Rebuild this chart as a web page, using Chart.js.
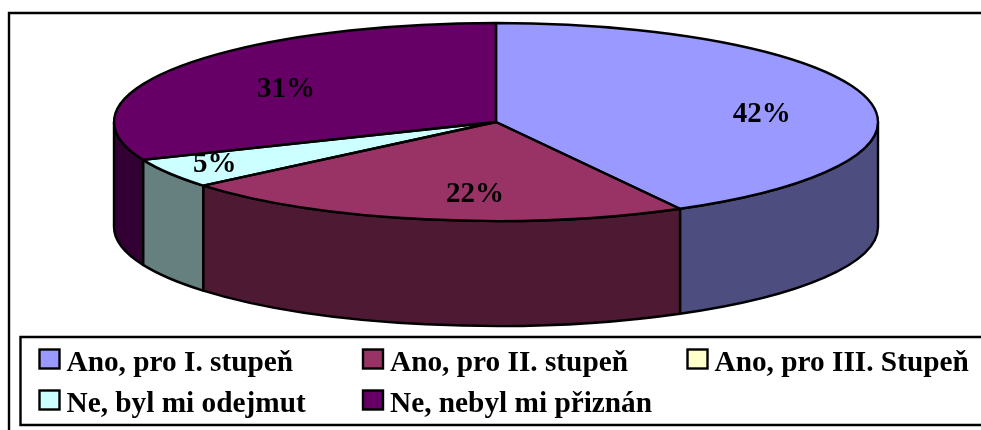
<!DOCTYPE html>
<html>
<head>
<meta charset="utf-8">
<style>html,body{margin:0;padding:0;background:#fff;overflow:hidden}canvas{display:block}</style>
<script src="https://cdn.jsdelivr.net/npm/chart.js@4/dist/chart.umd.js"></script>
</head>
<body>
<canvas id="c" width="981" height="430"></canvas>
<script>
const categories = ['Ano, pro I. stupeň','Ano, pro II. stupeň','Ano, pro III. Stupeň','Ne, byl mi odejmut','Ne, nebyl mi přiznán'];
const shares = [42, 21.9, 0, 4.85, 31.25];
const topColors = ['#9999FF','#993366','#FFFFCC','#CCFFFF','#660066'];
const sideColors = ['#4D4D80','#4D1933','#808066','#668080','#330033'];
const valueLabels = ['42%','22%','','5%','31%'];
// label placement as a fraction of the two ellipse radii
const labelSpotX = [0.696,-0.055,0,-0.736,-0.55];
const labelSpotY = [-0.09,0.727,0,0.424,-0.343];
const legendColX = [39.5,363,687.5];
const legendRowY = [349.5,390.5];
const stretchX = 382/99;
const depth = 105;

const pie3d = {
  id:'pie3d',
  beforeDatasetsDraw(chart){
    const ctx = chart.ctx, arcs = chart.getDatasetMeta(0).data;
    const cx = arcs[0].x, cy = arcs[0].y, ry = arcs[0].outerRadius, rx = ry*stretchX;
    ctx.save();
    ctx.strokeStyle = '#000'; ctx.lineWidth = 2.4; ctx.lineJoin = 'round';
    // front wall
    arcs.forEach((arc,i)=>{
      const a0 = Math.max(arc.startAngle,0), a1 = Math.min(arc.endAngle,Math.PI);
      if(a1<=a0) return;
      ctx.beginPath();
      ctx.ellipse(cx,cy,rx,ry,0,a0,a1);
      ctx.ellipse(cx,cy+depth,rx,ry,0,a1,a0,true);
      ctx.closePath();
      ctx.fillStyle = sideColors[i];
      ctx.fill(); ctx.stroke();
    });
    // top face, filled by the library's own arc elements
    arcs.forEach(arc=>{
      ctx.save();
      ctx.translate(cx,cy); ctx.scale(stretchX,1); ctx.translate(-cx,-cy);
      arc.draw(ctx);
      ctx.restore();
    });
    ctx.strokeStyle = '#000'; ctx.lineWidth = 2.4;
    arcs.forEach(arc=>{
      if(arc.endAngle-arc.startAngle<=0) return;
      ctx.beginPath();
      ctx.moveTo(cx,cy);
      ctx.ellipse(cx,cy,rx,ry,0,arc.startAngle,arc.endAngle);
      ctx.closePath();
      ctx.stroke();
    });
    // value labels
    ctx.fillStyle='#000';
    ctx.font='bold 29px "Liberation Serif"';
    ctx.textAlign='center'; ctx.textBaseline='middle';
    valueLabels.forEach((t,i)=>{ if(t) ctx.fillText(t,cx+labelSpotX[i]*rx,cy+labelSpotY[i]*ry+1); });
    ctx.restore();
    return false;
  },
  afterDraw(chart){
    const ctx = chart.ctx, W = chart.width, H = chart.height;
    ctx.save();
    ctx.strokeStyle='#000'; ctx.lineWidth=2.4;
    // outer frame
    ctx.beginPath(); ctx.moveTo(9,H); ctx.lineTo(9,13); ctx.lineTo(W,13); ctx.stroke();
    // legend box
    ctx.beginPath(); ctx.moveTo(W,337); ctx.lineTo(20.5,337); ctx.lineTo(20.5,425); ctx.lineTo(W,425); ctx.stroke();
    ctx.font='bold 29.3px "Liberation Serif"';
    ctx.textAlign='left'; ctx.textBaseline='alphabetic';
    categories.forEach((name,i)=>{
      const x = legendColX[i%3], y = legendRowY[Math.floor(i/3)];
      ctx.fillStyle=topColors[i];
      ctx.fillRect(x,y,20,19);
      ctx.strokeRect(x,y,20,19);
      ctx.fillStyle='#000';
      ctx.fillText(name,x+27,y+21);
    });
    ctx.restore();
  }
};

new Chart(document.getElementById('c'),{
  type:'pie',
  data:{labels:categories,datasets:[{data:shares,backgroundColor:topColors,borderWidth:0,hoverOffset:0}]},
  options:{
    responsive:false,animation:false,
    layout:{padding:{left:11,right:0,top:23,bottom:209}},
    plugins:{legend:{display:false},tooltip:{enabled:false}}
  },
  plugins:[pie3d]
});
</script>
</body>
</html>
